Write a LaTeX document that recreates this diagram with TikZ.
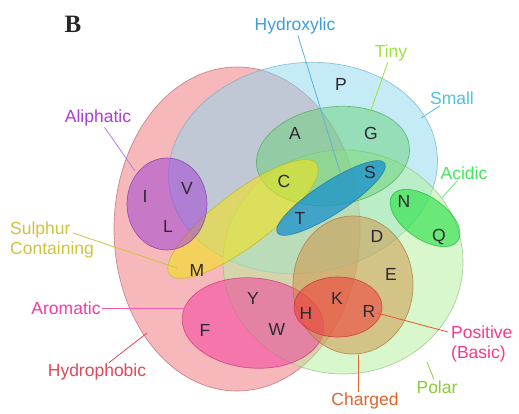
\documentclass[tikz,border=0pt]{standalone}
\usepackage{fontspec}
\setmainfont{Liberation Sans}
\newfontfamily\panelfont{Liberation Serif}
\usetikzlibrary{calc}
\definecolor{cphob}{HTML}{F28A8E}
\definecolor{csmall}{HTML}{8CD8F0}
\definecolor{cpolar}{HTML}{B4F09C}
\definecolor{ctiny}{HTML}{5CCF6A}
\definecolor{csulph}{HTML}{F2E21E}
\definecolor{caliph}{HTML}{A044D2}
\definecolor{carom}{HTML}{F2409E}
\definecolor{ccharg}{HTML}{D09040}
\definecolor{cpos}{HTML}{F23C3C}
\definecolor{chydrox}{HTML}{1A90D0}
\definecolor{cacid}{HTML}{22E040}
\definecolor{aatext}{HTML}{2E2830}
\definecolor{tpolar}{HTML}{8CCB3C}
\definecolor{tsmall}{HTML}{4CC4DC}
\definecolor{thphob}{HTML}{E04858}
\definecolor{tsulph}{HTML}{D2C23C}

\begin{document}
\begin{tikzpicture}[x=1pt, y=-1pt, font=\fontsize{17.5}{20}\selectfont,
                    set/.style={line width=0.7pt, fill opacity=0.5, draw opacity=0.7},
                    aa/.style={text=aatext, inner sep=1pt},
                    lbl/.style={inner sep=1pt},
                    lead/.style={line width=0.8pt}]
  \fill[white] (0,0) rectangle (519,414);
  \useasboundingbox (0,0) rectangle (519,414);
  % property sets
  \filldraw[set, fill=cphob, fill opacity=0.6, draw=cphob!75!black] (237,229) ellipse[x radius=123pt, y radius=162pt];
  \filldraw[set, fill=csmall, draw=csmall!80!black] (303,168) ellipse[x radius=135pt, y radius=105pt, rotate=8];
  \filldraw[set, fill=cpolar, draw=cpolar!80!black] (343,262) ellipse[x radius=120pt, y radius=112pt];
  \filldraw[set, fill=ctiny, fill opacity=0.45, draw=ctiny!80!black] (333,156) ellipse[x radius=77pt, y radius=49pt, rotate=8];
  \filldraw[set, fill=csulph, fill opacity=0.6, draw=csulph!80!black] (243,219) ellipse[x radius=92pt, y radius=27pt, rotate=37];
  \filldraw[set, fill=caliph, fill opacity=0.55, draw=caliph!80!black] (167,204) ellipse[x radius=40pt, y radius=46pt];
  \filldraw[set, fill=carom, fill opacity=0.55, draw=carom!80!black] (253,323) ellipse[x radius=71pt, y radius=45pt, rotate=-5];
  \filldraw[set, fill=ccharg, draw=ccharg!80!black] (353,285) ellipse[x radius=60pt, y radius=69pt];
  \filldraw[set, fill=cpos, fill opacity=0.55, draw=cpos!80!black] (338,307) ellipse[x radius=44pt, y radius=30pt];
  \filldraw[set, fill=chydrox, fill opacity=0.75, draw=chydrox!80!black] (331,198) ellipse[x radius=64pt, y radius=16pt, rotate=33];
  \filldraw[set, fill=cacid, fill opacity=0.6, draw=cacid!80!black] (425,218) ellipse[x radius=40pt, y radius=21pt, rotate=-35];
  % amino acids
  \node[aa] (aaP) at (341,84) {P};
  \node[aa] (aaA) at (295,133) {A};
  \node[aa] (aaG) at (371,133) {G};
  \node[aa] (aaC) at (284,181) {C};
  \node[aa] (aaS) at (370,172) {S};
  \node[aa] (aaI) at (145,196) {I};
  \node[aa] (aaV) at (187,188) {V};
  \node[aa] (aaL) at (168,226) {L};
  \node[aa] (aaN) at (404,201) {N};
  \node[aa] (aaQ) at (439,237) {Q};
  \node[aa] (aaT) at (300,218) {T};
  \node[aa] (aaD) at (377,236) {D};
  \node[aa] (aaE) at (391,274) {E};
  \node[aa] (aaM) at (197,270) {M};
  \node[aa] (aaK) at (337,298) {K};
  \node[aa] (aaR) at (369,311) {R};
  \node[aa] (aaH) at (306,313) {H};
  \node[aa] (aaY) at (253,298) {Y};
  \node[aa] (aaF) at (205,330) {F};
  \node[aa] (aaW) at (277,329) {W};
  % labels and leaders
  \node[font=\panelfont\bfseries\fontsize{25}{27}\selectfont, text=black!85] (panel) at (73,24) {B};
  \node[lbl, text=chydrox!85!white] (lblHydrox) at (295,26) {Hydroxylic};
  \node[lbl, text=ctiny!60!yellow] (lblTiny) at (391,53) {Tiny};
  \node[lbl, text=tsmall] (lblSmall) at (452,98) {Small};
  \node[lbl, text=cacid!85!white] (lblAcid) at (464,173) {Acidic};
  \node[lbl, text=caliph!85!magenta] (lblAliph) at (98,118) {Aliphatic};
  \node[lbl, text=tsulph, align=left, anchor=west] (lblSulph) at (9,240) {Sulphur\\Containing};
  \node[lbl, text=carom!90!magenta] (lblArom) at (66,308) {Aromatic};
  \node[lbl, text=thphob] (lblHphob) at (97,372) {Hydrophobic};
  \node[lbl, text=carom!90!red, align=left, anchor=west] (lblPos) at (450,344) {Positive\\(Basic)};
  \node[lbl, text=tpolar] (lblPolar) at (437,387) {Polar};
  \node[lbl, text=ccharg!70!red] (lblCharg) at (365,401) {Charged};
  \coordinate (endHydrox) at (340,172);
  \coordinate (endTiny) at (370,113);
  \coordinate (endSmall) at (421,118);
  \coordinate (endAcid) at (442,198);
  \coordinate (endAliph) at (135,171);
  \coordinate (endSulph) at (177,268);
  \coordinate (endArom) at (185,308);
  \coordinate (endHphob) at (147,333);
  \coordinate (endPos) at (377,313);
  \coordinate (endPolar) at (427,362);
  \coordinate (endCharg) at (358,355);
  \draw[lead, chydrox!70!white] (lblHydrox) -- (endHydrox);
  \draw[lead, ctiny!60!yellow] (lblTiny) -- (endTiny);
  \draw[lead, tsmall] (lblSmall) -- (endSmall);
  \draw[lead, cacid!70!white] (lblAcid) -- (endAcid);
  \draw[lead, caliph!70!white] (lblAliph) -- (endAliph);
  \draw[lead, tsulph] ($(lblSulph.east)+(-22,-7)$) -- (endSulph);
  \draw[lead, carom!85!white] (lblArom) -- (endArom);
  \draw[lead, thphob] (lblHphob) -- (endHphob);
  \draw[lead, ccharg!60!red] ($(lblPos.west)+(-2,-12)$) -- (endPos);
  \draw[lead, tpolar] (lblPolar) -- (endPolar);
  \draw[lead, ccharg!70!red] (endCharg |- lblCharg.north) -- (endCharg);
\end{tikzpicture}
\end{document}
